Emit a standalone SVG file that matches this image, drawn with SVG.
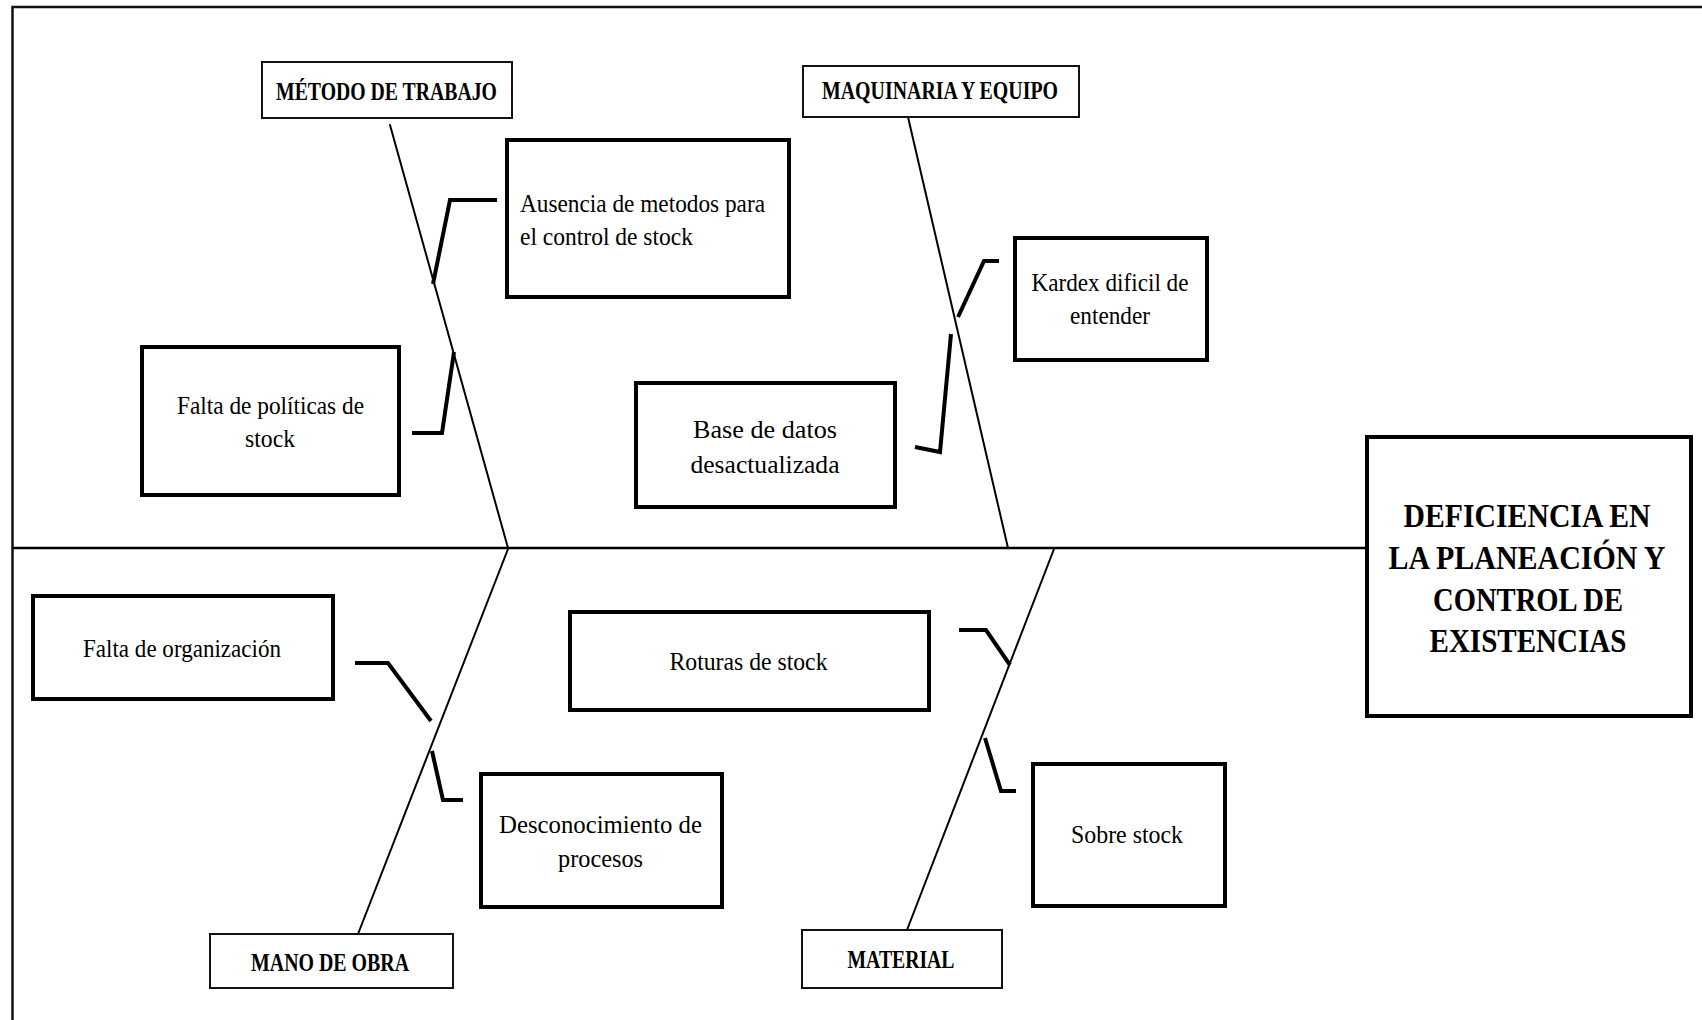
<svg xmlns="http://www.w3.org/2000/svg" width="1702" height="1020" viewBox="0 0 1702 1020">
  <style>
    .frame { fill: none; stroke: #111; stroke-width: 2.5; }
    .cause { fill: #fff; stroke: #000; stroke-width: 4; }
    .cat { fill: #fff; stroke: #111; stroke-width: 2; }
    .effect { fill: #fff; stroke: #000; stroke-width: 4; }
    .bone { fill: none; stroke: #000; stroke-width: 2; stroke-linecap: round; }
    .spine { fill: none; stroke: #000; stroke-width: 2.5; }
    .tie { fill: none; stroke: #000; stroke-width: 4; stroke-linejoin: miter; }
    text { font-family: "Liberation Serif", "Times New Roman", serif; fill: #000; }
    .t { font-size: 26px; }
    .tb { font-size: 25px; font-weight: bold; }
    .te { font-size: 34px; font-weight: bold; }
  </style>

  <!-- page frame (top and left edges) -->
  <path class="frame" d="M12.5 1020 V7 H1702"/>

  <!-- spine and bones with their tie lines -->
  <g id="connectors">
    <line class="spine" x1="13" y1="548" x2="1367" y2="548"/>
    <line class="bone" x1="390" y1="125" x2="508" y2="548"/>
    <line class="bone" x1="908" y1="117" x2="1008" y2="548"/>
    <line class="bone" x1="508" y1="549" x2="358" y2="934"/>
    <line class="bone" x1="1054" y1="549" x2="907" y2="930"/>

    <polyline class="tie" points="497,200 450,200 433,284"/>
    <polyline class="tie" points="412,433 442,433 454,352"/>
    <polyline class="tie" points="999,261 984,261 958,317"/>
    <polyline class="tie" points="915,447 940,452 951,334"/>
    <polyline class="tie" points="355,663 388,663 431,721"/>
    <polyline class="tie" points="432,751 443,800 463,800"/>
    <polyline class="tie" points="959,630 986,630 1010,665"/>
    <polyline class="tie" points="985,738 1001,791 1016,791"/>
  </g>

  <!-- category labels -->
  <g id="cat-metodo">
    <rect class="cat" x="262" y="62" width="250" height="56"/>
    <text class="tb" x="386.5" y="100" text-anchor="middle" textLength="221" lengthAdjust="spacingAndGlyphs">MÉTODO DE TRABAJO</text>
  </g>
  <g id="cat-maquinaria">
    <rect class="cat" x="803" y="66" width="276" height="51"/>
    <text class="tb" x="940" y="99" text-anchor="middle" textLength="236" lengthAdjust="spacingAndGlyphs">MAQUINARIA Y EQUIPO</text>
  </g>
  <g id="cat-mano">
    <rect class="cat" x="210" y="934" width="243" height="54"/>
    <text class="tb" x="330" y="971" text-anchor="middle" textLength="158" lengthAdjust="spacingAndGlyphs">MANO DE OBRA</text>
  </g>
  <g id="cat-material">
    <rect class="cat" x="802" y="930" width="200" height="58"/>
    <text class="tb" x="901" y="968" text-anchor="middle" textLength="107" lengthAdjust="spacingAndGlyphs">MATERIAL</text>
  </g>

  <!-- causes -->
  <g id="cause-ausencia">
    <rect class="cause" x="507" y="140" width="282" height="157"/>
    <text class="t" x="520" y="212" textLength="245" lengthAdjust="spacingAndGlyphs">Ausencia de metodos para</text>
    <text class="t" x="520" y="245" textLength="173" lengthAdjust="spacingAndGlyphs">el control de stock</text>
  </g>
  <g id="cause-politicas">
    <rect class="cause" x="142" y="347" width="257" height="148"/>
    <text class="t" x="270.5" y="414" text-anchor="middle" textLength="187" lengthAdjust="spacingAndGlyphs">Falta de políticas de</text>
    <text class="t" x="270" y="447" text-anchor="middle" textLength="50" lengthAdjust="spacingAndGlyphs">stock</text>
  </g>
  <g id="cause-kardex">
    <rect class="cause" x="1015" y="238" width="192" height="122"/>
    <text class="t" x="1110" y="291" text-anchor="middle" textLength="157" lengthAdjust="spacingAndGlyphs">Kardex dificil de</text>
    <text class="t" x="1110" y="324" text-anchor="middle" textLength="80" lengthAdjust="spacingAndGlyphs">entender</text>
  </g>
  <g id="cause-base">
    <rect class="cause" x="636" y="383" width="259" height="124"/>
    <text class="t" x="765" y="438" text-anchor="middle" font-size="28" textLength="144" lengthAdjust="spacingAndGlyphs">Base de datos</text>
    <text class="t" x="765" y="473" text-anchor="middle" font-size="28" textLength="149" lengthAdjust="spacingAndGlyphs">desactualizada</text>
  </g>
  <g id="cause-organizacion">
    <rect class="cause" x="33" y="596" width="300" height="103"/>
    <text class="t" x="182" y="657" text-anchor="middle" textLength="198" lengthAdjust="spacingAndGlyphs">Falta de organización</text>
  </g>
  <g id="cause-desconocimiento">
    <rect class="cause" x="481" y="774" width="241" height="133"/>
    <text class="t" x="600.5" y="833" text-anchor="middle" textLength="203" lengthAdjust="spacingAndGlyphs">Desconocimiento de</text>
    <text class="t" x="600.5" y="867" text-anchor="middle" textLength="85" lengthAdjust="spacingAndGlyphs">procesos</text>
  </g>
  <g id="cause-roturas">
    <rect class="cause" x="570" y="612" width="359" height="98"/>
    <text class="t" x="748.5" y="670" text-anchor="middle" textLength="158" lengthAdjust="spacingAndGlyphs">Roturas de stock</text>
  </g>
  <g id="cause-sobrestock">
    <rect class="cause" x="1033" y="764" width="192" height="142"/>
    <text class="t" x="1127" y="843" text-anchor="middle" textLength="112" lengthAdjust="spacingAndGlyphs">Sobre stock</text>
  </g>

  <!-- effect -->
  <g id="effect">
    <rect class="effect" x="1367" y="437" width="324" height="279"/>
    <text class="te" x="1527" y="527" text-anchor="middle" textLength="247" lengthAdjust="spacingAndGlyphs">DEFICIENCIA  EN</text>
    <text class="te" x="1527" y="569" text-anchor="middle" textLength="277" lengthAdjust="spacingAndGlyphs">LA PLANEACIÓN Y</text>
    <text class="te" x="1528" y="611" text-anchor="middle" textLength="190" lengthAdjust="spacingAndGlyphs">CONTROL DE</text>
    <text class="te" x="1528" y="652" text-anchor="middle" textLength="197" lengthAdjust="spacingAndGlyphs">EXISTENCIAS</text>
  </g>
</svg>
